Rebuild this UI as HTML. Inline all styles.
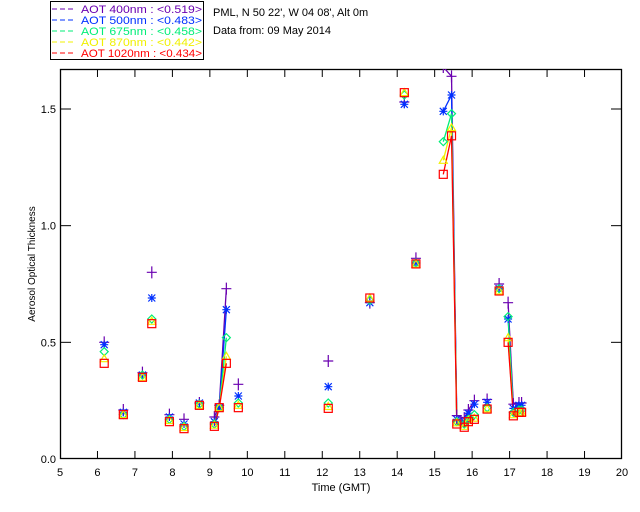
<!DOCTYPE html>
<html><head><meta charset="utf-8"><style>
html,body{margin:0;padding:0;background:#fff;width:640px;height:512px;overflow:hidden}
svg{display:block;font-family:"Liberation Sans","DejaVu Sans",sans-serif}
</style></head><body>
<svg id="chart" width="640" height="512" viewBox="0 0 640 512" xmlns="http://www.w3.org/2000/svg">
<g id="legend">
<rect x="50.5" y="1.5" width="153" height="58" fill="#fff" stroke="#000" stroke-width="1"/>
</g>
<text x="213" y="16" font-size="11" fill="#000">PML, N 50 22', W 04 08', Alt 0m</text>
<text x="213" y="34" font-size="11" fill="#000">Data from: 09 May 2014</text>
<g id="axes"></g>
<g id="plot" clip-path="url(#clip)"></g>
<defs><clipPath id="clip"><rect x="60" y="69" width="562" height="390"/></clipPath></defs>
<text x="341" y="491" font-size="11" text-anchor="middle" fill="#000">Time (GMT)</text>
<text transform="translate(35,264) rotate(-90)" font-size="10" text-anchor="middle" fill="#000">Aerosol Optical Thickness</text>
</svg>
<script>
const times = [6.18,6.69,7.20,7.45,7.92,8.31,8.72,9.12,9.25,9.44,9.76,12.16,13.27,14.19,14.50,15.23,15.45,15.59,15.79,15.90,16.06,16.40,16.72,16.96,17.10,17.25,17.32];
const aot400 = [0.50,0.21,0.37,0.80,0.19,0.17,0.24,0.18,0.23,0.73,0.32,0.42,0.67,1.53,0.86,1.68,1.64,0.186,0.175,0.21,0.25,0.255,0.75,0.67,0.235,0.24,0.24];
const aot500 = [0.49,0.20,0.36,0.69,0.18,0.15,0.24,0.16,0.22,0.64,0.27,0.31,0.67,1.52,0.84,1.49,1.56,0.17,0.16,0.196,0.235,0.243,0.73,0.60,0.217,0.23,0.23];
const aot675 = [0.46,0.19,0.36,0.60,0.17,0.14,0.235,0.15,0.22,0.52,0.24,0.24,0.68,1.56,0.84,1.36,1.48,0.16,0.15,0.17,0.19,0.22,0.73,0.61,0.20,0.21,0.21];
const aot870 = [0.43,0.19,0.35,0.59,0.165,0.135,0.23,0.145,0.22,0.44,0.23,0.225,0.69,1.57,0.835,1.28,1.42,0.155,0.14,0.165,0.175,0.215,0.72,0.52,0.19,0.20,0.20];
const aot1020 = [0.41,0.19,0.35,0.58,0.16,0.13,0.23,0.14,0.22,0.41,0.22,0.217,0.69,1.57,0.836,1.22,1.385,0.15,0.136,0.16,0.17,0.214,0.72,0.50,0.185,0.20,0.20];
const legendLabels = ["AOT  400nm : <0.519>","AOT  500nm : <0.483>","AOT  675nm : <0.458>","AOT  870nm : <0.442>","AOT 1020nm : <0.434>"];
const xTicks = [5,6,7,8,9,10,11,12,13,14,15,16,17,18,19,20];
const yTicks = [0.0,0.5,1.0,1.5];

const NS="http://www.w3.org/2000/svg";
const X0=60,X1=622,Y0=459,Y1=69,XMIN=5,XMAX=20,YMAX=1.6714;
function xs(h){return X0+(h-XMIN)/(XMAX-XMIN)*(X1-X0);}
function ys(v){return Y0-v/YMAX*(Y0-Y1);}
function mk(tag,attrs,parent){const e=document.createElementNS(NS,tag);for(const k in attrs)e.setAttribute(k,attrs[k]);parent.appendChild(e);return e;}

const series=[
 {vals:aot400,color:"#6a00b0",shape:"plus",name:"aot-400"},
 {vals:aot500,color:"#0030ff",shape:"star",name:"aot-500"},
 {vals:aot675,color:"#00ee77",shape:"diamond",name:"aot-675"},
 {vals:aot870,color:"#f0f000",shape:"triangle",name:"aot-870"},
 {vals:aot1020,color:"#ff0000",shape:"square",name:"aot-1020"}];

// legend
const lg=document.getElementById('legend');
series.forEach((s,i)=>{
  const y=13+i*11;
  const d=mk('line',{x1:52,y1:y-4,x2:74,y2:y-4,stroke:s.color,'stroke-width':1,'stroke-dasharray':'5,3'},lg);
  
  
  const t=mk('text',{x:81,y:y,'font-size':11,fill:s.color,textLength:121,lengthAdjust:'spacingAndGlyphs'},lg);
  t.textContent=legendLabels[i];
  t.setAttribute('xml:space','preserve');
  
  
});

// axes
const ax=document.getElementById('axes');
const box=mk('rect',{x:X0+0.5,y:Y1+0.5,width:X1-X0-1,height:Y0-Y1-1,fill:'none',stroke:'#000','stroke-width':1.3},ax);


xTicks.forEach(h=>{
  const x=xs(h);
  if(h>XMIN&&h<XMAX){
    mk('line',{x1:x,y1:Y0,x2:x,y2:Y0-8,stroke:'#000'},ax);
    mk('line',{x1:x,y1:Y1,x2:x,y2:Y1+8,stroke:'#000'},ax);
  }
  const t=mk('text',{x:x,y:Y0+17,'font-size':11,'text-anchor':'middle',fill:'#000'},ax);
  t.textContent=String(h);
  
  
});
yTicks.forEach(v=>{
  const y=ys(v);
  if(v>0){mk('line',{x1:X0,y1:y,x2:X0+11,y2:y,stroke:'#000'},ax);
  mk('line',{x1:X1,y1:y,x2:X1-11,y2:y,stroke:'#000'},ax);}
  const t=mk('text',{x:X0-4,y:y+4,'font-size':11,'text-anchor':'end',fill:'#000'},ax);
  t.textContent=v.toFixed(1);
  
  
});

// series
const pl=document.getElementById('plot');
function marker(shape,x,y,c,g){
  const a={fill:'none',stroke:c,'stroke-width':1.2};
  if(shape==='plus'){mk('path',Object.assign({d:`M${x-5},${y}H${x+5}M${x},${y-6}V${y+6}`},a),g);}
  else if(shape==='star'){mk('path',Object.assign({d:`M${x-4},${y}H${x+4}M${x},${y-4}V${y+4}M${x-3.5},${y-3.5}L${x+3.5},${y+3.5}M${x-3.5},${y+3.5}L${x+3.5},${y-3.5}`,'stroke-width':1.6},a),g);}
  else if(shape==='diamond'){mk('path',Object.assign({d:`M${x},${y-4}L${x+4},${y}L${x},${y+4}L${x-4},${y}Z`},a),g);}
  else if(shape==='triangle'){mk('path',Object.assign({d:`M${x},${y-4}L${x+4},${y+3}L${x-4},${y+3}Z`},a),g);}
  else {mk('rect',Object.assign({x:x-4,y:y-4,width:8,height:8,'stroke-width':1.5},a),g);}
}
series.forEach(s=>{
  const g=mk('g',{},pl);
  
  
  for(let i=0;i<times.length-1;i++){
    if(times[i+1]-times[i]<0.22){
      const l=mk('line',{x1:xs(times[i]),y1:ys(s.vals[i]),x2:xs(times[i+1]),y2:ys(s.vals[i+1]),stroke:s.color,'stroke-width':1.3},g);
      
      
    }
  }
});
series.forEach(s=>{
  const g=mk('g',{},pl);
  
  
  times.forEach((h,i)=>marker(s.shape,xs(h),ys(s.vals[i]),s.color,g));
});
</script>
</body></html>
